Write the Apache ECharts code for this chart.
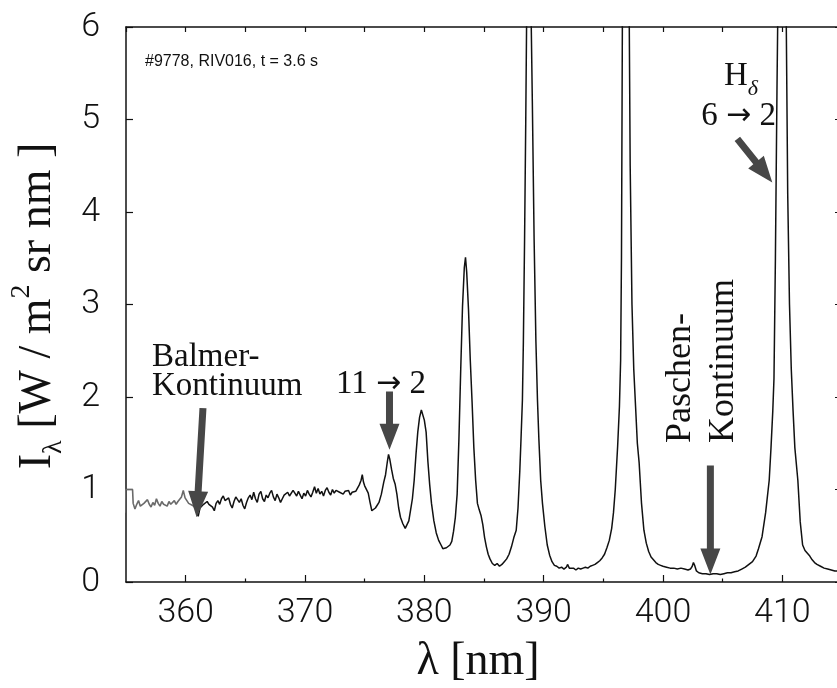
<!DOCTYPE html>
<html><head><meta charset="utf-8">
<script src="https://cdn.jsdelivr.net/npm/echarts@6/dist/echarts.min.js"></script>
<style>html,body{margin:0;padding:0;background:#fff}#c{width:837px;height:688px}</style>
</head><body><div id="c"></div>
<script>
// ---- data (wavelength in nm, spectral radiance) ----
const lambdaA = [354.9,354.95,355.55,355.6,355.75,355.9,356.05,356.2,356.35,356.5,356.65,356.8,356.95,357.1,357.25,357.4,357.55,357.7,357.85,358.0,358.15,358.3,358.45,358.6,358.75,358.9,359.05,359.2,359.35,359.5,359.65,359.8,359.95,360.1,360.25,360.4,360.55,360.7,360.85,360.95];
const intensA = [0.75,1.0,1.0,0.85,0.79,0.84,0.88,0.82,0.80,0.85,0.83,0.89,0.84,0.81,0.86,0.83,0.90,0.85,0.82,0.87,0.84,0.86,0.82,0.87,0.84,0.85,0.88,0.84,0.87,0.86,0.92,0.99,0.91,0.88,0.85,0.86,0.83,0.84,0.80,0.74];

const lambdaB = [360.95,361.05,361.2,361.35,361.5,361.65,361.8,361.95,362.1,362.25,362.4,362.55,362.7,362.85,363.0,363.15,363.3,363.45,363.6,363.75,363.9,364.05,364.2,364.35,364.5,364.65,364.8,364.95,365.1,365.25,365.4,365.55,365.7,365.85,366.0,366.15,366.3,366.45,366.6,366.75,366.9,367.05,367.2,367.35,367.5,367.65,367.8,367.95,368.1,368.25,368.4,368.55,368.7,368.85,369.0,369.15,369.3,369.45,369.6,369.75,369.9,370.05,370.2,370.35,370.5,370.65,370.8,370.95,371.1,371.25,371.4,371.55,371.7,371.85,372.0,372.15,372.3,372.45,372.6,372.75,372.9,373.05,373.2,373.35,373.5,373.65,373.8,373.95,374.1,374.25,374.4,374.55,374.7,374.8,374.9,375.0,375.15,375.3,375.45,375.6,375.75,375.9,376.05,376.2,376.4,376.6,376.75,376.9,377.0,377.1,377.25,377.4,377.55,377.7,377.85,378.0,378.2,378.4,378.55,378.7,378.85,379.0,379.15,379.3,379.45,379.6,379.75,379.85,380.0,380.15,380.3,380.45,380.6,380.8,381.0,381.2,381.4,381.55,381.7,381.85,382.0,382.15,382.3,382.45,382.6,382.75,382.9,383.05,383.2,383.35,383.45,383.55,383.7,383.85,384.0,384.15,384.3,384.45,384.6,384.75,384.9,385.05,385.2,385.35,385.5,385.7,385.9,386.1,386.3,386.5,386.7,386.9,387.1,387.3,387.5,387.7,387.85,388.0,388.1,388.22,388.3,388.4,388.5,388.6,388.75,388.95,389.05,389.2,389.35,389.48,389.6,389.75,389.9,390.1,390.3,390.5,390.7,390.9,391.1,391.3,391.5,391.7,391.9,392.0,392.15,392.3,392.5,392.7,392.9,393.1,393.3,393.5,393.7,393.9,394.1,394.3,394.5,394.7,394.9,395.1,395.3,395.5,395.7,395.85,396.0,396.2,396.35,396.45,396.52,396.6,396.9,397.15,397.25,397.4,397.55,397.7,397.85,398.0,398.2,398.4,398.6,398.8,399.0,399.2,399.4,399.6,399.8,400.0,400.3,400.6,400.9,401.2,401.5,401.8,402.1,402.3,402.45,402.55,402.65,402.8,403.0,403.3,403.6,403.9,404.2,404.5,404.8,405.1,405.4,405.7,406.0,406.3,406.6,406.9,407.2,407.5,407.8,408.0,408.3,408.6,408.9,409.05,409.2,409.3,409.42,409.55,409.65,409.95,410.3,410.45,410.6,410.75,410.9,411.05,411.3,411.5,411.7,411.9,412.1,412.3,412.5,412.7,412.9,413.2,413.5,413.8,414.1,414.4,414.7,415.0];
const intensB = [0.74,0.71,0.80,0.78,0.84,0.82,0.87,0.84,0.86,0.81,0.77,0.85,0.88,0.84,0.90,0.93,0.88,0.86,0.91,0.84,0.80,0.87,0.92,0.89,0.86,0.90,0.83,0.79,0.86,0.91,0.94,0.89,0.97,0.90,0.86,0.95,0.98,0.90,0.87,0.94,0.91,0.96,0.99,0.92,0.88,0.95,0.91,0.86,0.90,0.94,0.92,0.97,0.93,0.95,0.99,0.96,0.93,0.98,0.94,0.90,0.96,0.93,0.99,0.95,0.92,0.97,1.03,0.96,1.01,0.95,0.98,0.93,0.99,1.02,0.97,0.94,1.00,0.96,0.99,1.01,0.97,0.99,0.95,0.98,0.96,0.99,0.94,0.97,0.95,0.98,0.96,1.05,1.10,1.16,1.08,1.04,1.06,0.96,0.86,0.77,0.76,0.80,0.83,0.86,0.95,1.08,1.16,1.30,1.38,1.33,1.22,1.12,1.06,0.95,0.80,0.70,0.63,0.58,0.60,0.66,0.78,0.90,1.10,1.38,1.62,1.78,1.86,1.85,1.75,1.62,1.30,1.05,0.85,0.66,0.53,0.45,0.40,0.36,0.35,0.37,0.36,0.40,0.44,0.55,0.70,0.95,1.55,2.30,2.98,3.40,3.51,3.35,2.95,2.40,1.95,1.45,1.10,0.85,0.78,0.72,0.62,0.48,0.38,0.30,0.25,0.20,0.18,0.20,0.17,0.19,0.22,0.25,0.30,0.38,0.48,0.56,0.80,1.20,1.54,1.97,2.6,3.7,5.0,6.5,7.5,6.1,5.2,3.7,2.6,1.97,1.54,1.10,0.85,0.60,0.40,0.29,0.22,0.18,0.17,0.15,0.16,0.14,0.16,0.19,0.15,0.14,0.15,0.13,0.15,0.14,0.15,0.16,0.15,0.17,0.18,0.19,0.21,0.23,0.26,0.30,0.37,0.45,0.58,0.75,1.0,1.47,1.9,2.4,3.5,6.2,7.5,6.5,4.5,3.0,2.3,1.9,1.5,1.29,0.85,0.56,0.42,0.33,0.27,0.24,0.21,0.19,0.18,0.17,0.16,0.15,0.15,0.14,0.15,0.14,0.13,0.14,0.17,0.21,0.18,0.12,0.10,0.09,0.09,0.08,0.09,0.09,0.08,0.09,0.10,0.10,0.11,0.12,0.14,0.16,0.19,0.22,0.28,0.36,0.49,0.75,1.10,1.45,1.85,2.2,3.5,5.3,6.5,7.8,6.5,4.2,3.0,2.3,1.85,1.45,1.10,0.65,0.40,0.34,0.31,0.28,0.24,0.21,0.19,0.17,0.15,0.14,0.13,0.12,0.12,0.12];

const xMajorTicks = [360, 370, 380, 390, 400, 410];
const xMinorTicks = [365, 375, 385, 395, 405];
const yTicks = [0, 1, 2, 3, 4, 5, 6];

// annotation arrows, in data coordinates: [tail, tip]
const arrows = [
  [[361.45, 1.88], [360.92, 0.70]],
  [[377.08, 2.06], [377.08, 1.43]],
  [[403.97, 1.26], [403.97, 0.08]],
  [[406.23, 4.79], [409.16, 4.32]]
];

const tickFont = 'Roboto, "DejaVu Sans", sans-serif';
const serif = '"Liberation Serif", "DejaVu Serif", serif';
const arrowFont = '"DejaVu Sans", sans-serif';
const ink = '#111';

const chart = echarts.init(document.getElementById('c'), null, {renderer: 'canvas'});

const zipped = (xs, ys) => xs.map((x, i) => [x, ys[i]]);

const tickLine = {color: ink, width: 1.2};
const option = {
  backgroundColor: '#fff',
  animation: false,
  grid: {left: 126, right: -5, top: 27, bottom: 106, containLabel: false, outerBoundsMode: 'none'},
  xAxis: [
    {
      type: 'value', min: 355, max: 415, interval: 5, position: 'bottom',
      axisLine: {show: true, onZero: false, lineStyle: {color: ink, width: 1.5}},
      axisTick: {show: true, inside: true, length: 7, customValues: xMajorTicks, lineStyle: tickLine},
      axisLabel: {show: true, customValues: xMajorTicks, margin: 14, fontFamily: tickFont, fontWeight: 300, fontSize: 34, color: ink,
        formatter: v => (v % 10 === 0 ? String(v) : '')},
      splitLine: {show: false}
    },
    {
      type: 'value', min: 355, max: 415, interval: 5, position: 'top',
      axisLine: {show: true, onZero: false, lineStyle: {color: ink, width: 1.5}},
      axisTick: {show: true, inside: true, length: 5, lineStyle: tickLine},
      axisLabel: {show: false}, splitLine: {show: false}
    },
    {
      type: 'value', min: 355, max: 415, interval: 5, position: 'bottom',
      axisLine: {show: false, onZero: false},
      axisTick: {show: true, inside: true, length: 3.5, customValues: xMinorTicks, lineStyle: tickLine},
      axisLabel: {show: false}, splitLine: {show: false}
    }
  ],
  yAxis: [
    {
      type: 'value', min: 0, max: 6, interval: 1, position: 'left',
      axisLine: {show: true, onZero: false, lineStyle: {color: ink, width: 1.5}},
      axisTick: {show: true, inside: true, length: 7, customValues: yTicks, lineStyle: tickLine},
      axisLabel: {show: true, customValues: yTicks, margin: 26, fontFamily: tickFont, fontWeight: 300, fontSize: 34, color: ink},
      splitLine: {show: false}
    },
    {
      type: 'value', min: 0, max: 6, interval: 1, position: 'right',
      axisLine: {show: true, onZero: false, lineStyle: {color: ink, width: 1.5}},
      axisTick: {show: true, inside: true, length: 7, lineStyle: tickLine},
      axisLabel: {show: false}, splitLine: {show: false}
    }
  ],
  series: [
    {type: 'line', xAxisIndex: 0, yAxisIndex: 0, data: zipped(lambdaA, intensA), showSymbol: false, symbol: 'none',
      lineStyle: {color: '#6a6a6a', width: 1.6}, clip: true, z: 3},
    {type: 'line', xAxisIndex: 0, yAxisIndex: 0, data: zipped(lambdaB, intensB), showSymbol: false, symbol: 'none',
      lineStyle: {color: ink, width: 1.5}, clip: true, z: 3}
  ]
};
chart.setOption(option);

function arrowPoly(t, h) {
  const dx = h[0] - t[0], dy = h[1] - t[1], L = Math.hypot(dx, dy);
  const ux = dx / L, uy = dy / L, px = -uy, py = ux;
  const sw = 3.5, hw = 10, hl = 26;
  const bx = h[0] - ux * hl, by = h[1] - uy * hl;
  return [[t[0] + px * sw, t[1] + py * sw], [bx + px * sw, by + py * sw], [bx + px * hw, by + py * hw], h,
          [bx - px * hw, by - py * hw], [bx - px * sw, by - py * sw], [t[0] - px * sw, t[1] - py * sw]];
}

const toPx = p => chart.convertToPixel({xAxisIndex: 0, yAxisIndex: 0}, p);

const graphics = arrows.map(a => ({
  type: 'polygon', z: 10,
  shape: {points: arrowPoly(toPx(a[0]), toPx(a[1]))},
  style: {fill: '#474747'}
}));

const R = {
  m: {fontFamily: serif, fontSize: 33, fill: ink, lineHeight: 40},
  a: {fontFamily: arrowFont, fontSize: 30, fill: ink, lineHeight: 40}
};

function label(x, y, text, opts) {
  opts = opts || {};
  const el = {
    type: 'text', x: x, y: y, z: 10,
    style: {text: text, fontFamily: opts.family || serif, fontSize: opts.size || 33, fill: ink,
      textAlign: opts.align || 'left', textVerticalAlign: 'middle', rich: opts.rich}
  };
  if (opts.rotation !== undefined) el.rotation = opts.rotation;
  return el;
}

graphics.push(
  label(145, 62, '#9778, RIV016, t = 3.6 s', {family: '"Liberation Sans", Arial, sans-serif', size: 16}),
  label(152, 357, 'Balmer-'),
  label(152, 386, 'Kontinuum'),
  label(336, 384, '{m|11 }{a|\u2192}{m| 2}', {rich: R}),
  label(681, 443, 'Paschen-', {rotation: Math.PI / 2, size: 36}),
  label(724, 443, 'Kontinuum', {rotation: Math.PI / 2, size: 36}),
  {
    type: 'text', x: 724, y: 80, z: 10,
    style: {text: '{m|H}{s|\u03b4}', textAlign: 'left', textVerticalAlign: 'middle',
      rich: {m: {fontFamily: serif, fontSize: 33, fill: ink, lineHeight: 40, verticalAlign: 'top'},
             s: {fontFamily: serif, fontStyle: 'italic', fontSize: 22, fill: ink, lineHeight: 40, verticalAlign: 'bottom'}}}
  },
  label(776, 116, '{m|6 }{a|\u2192}{m| 2}', {rich: R, align: 'right'}),
  label(478, 662, '\u03bb [nm]', {size: 46, align: 'center'}),
  {
    type: 'text', x: 38, y: 306, z: 10, rotation: Math.PI / 2,
    style: {
      text: '{m|I}{s|\u03bb}{m| [W / m}{p|2}{m| sr nm ]}', textAlign: 'center', textVerticalAlign: 'middle',
      rich: {
        m: {fontFamily: serif, fontSize: 46, fill: ink, lineHeight: 60, verticalAlign: 'middle'},
        s: {fontFamily: serif, fontSize: 28, fill: ink, lineHeight: 60, verticalAlign: 'bottom'},
        p: {fontFamily: serif, fontSize: 28, fill: ink, lineHeight: 60, verticalAlign: 'top'}
      }
    }
  }
);

chart.setOption({graphic: graphics});
</script>
</body></html>
